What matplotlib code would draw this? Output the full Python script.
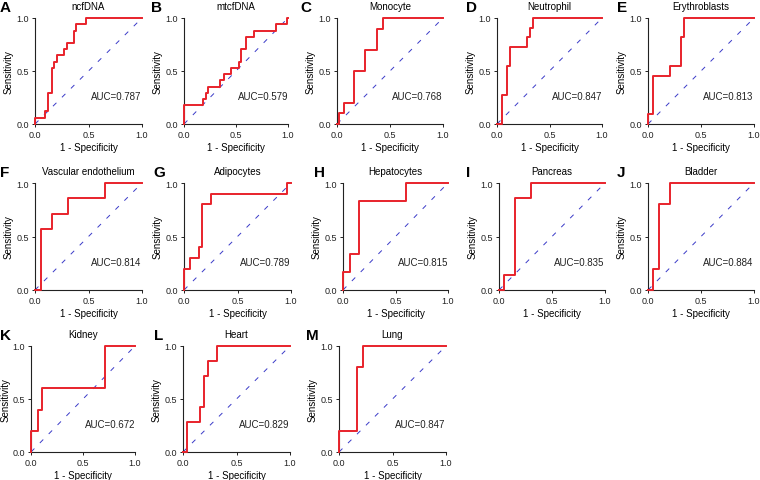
import matplotlib
matplotlib.use("Agg")
import matplotlib.pyplot as plt

plt.rcParams['font.family'] = ['Liberation Sans', 'DejaVu Sans']

# --- data: ROC step vertices (1 - specificity, sensitivity) ---
letters = ['A', 'B', 'C', 'D', 'E', 'F', 'G', 'H', 'I', 'J', 'K', 'L', 'M']
titles = ['ncfDNA', 'mtcfDNA', 'Monocyte', 'Neutrophil', 'Erythroblasts',
          'Vascular endothelium', 'Adipocytes', 'Hepatocytes', 'Pancreas', 'Bladder',
          'Kidney', 'Heart', 'Lung']
auc_values = [0.787, 0.579, 0.768, 0.847, 0.813,
              0.814, 0.789, 0.815, 0.835, 0.884,
              0.672, 0.829, 0.847]

fpr_values = [
    [0, 0, 0.094, 0.12, 0.16, 0.18, 0.21, 0.27, 0.30, 0.36, 0.38, 0.48, 1],
    [0, 0, 0.185, 0.21, 0.23, 0.345, 0.38, 0.455, 0.53, 0.55, 0.60, 0.67, 0.88, 0.99, 1],
    [0, 0.02, 0.07, 0.16, 0.26, 0.38, 0.43, 1],
    [0, 0.048, 0.095, 0.127, 0.29, 0.317, 0.34, 1],
    [0, 0, 0.047, 0.205, 0.31, 0.337, 1],
    [0, 0.053, 0.156, 0.306, 0.656, 1],
    [0, 0, 0.056, 0.144, 0.166, 0.253, 0.9625, 1],
    [0, 0, 0.069, 0.148, 0.6, 1],
    [0, 0.044, 0.155, 0.306, 1],
    [0, 0.047, 0.1, 0.205, 1],
    [0, 0, 0.069, 0.11, 0.716, 1],
    [0, 0.04, 0.156, 0.197, 0.234, 0.32, 1],
    [0, 0, 0.172, 0.228, 1],
]
tpr_values = [
    [0, 0.059, 0.118, 0.294, 0.529, 0.588, 0.647, 0.706, 0.765, 0.882, 0.941, 1, 1],
    [0, 0.176, 0.235, 0.294, 0.353, 0.412, 0.471, 0.529, 0.588, 0.706, 0.824, 0.882, 0.941, 1, 1],
    [0, 0.1, 0.2, 0.5, 0.7, 0.9, 1, 1],
    [0, 0.273, 0.545, 0.727, 0.818, 0.909, 1, 1],
    [0, 0.091, 0.455, 0.545, 0.818, 1, 1],
    [0, 0.571, 0.714, 0.857, 1, 1],
    [0, 0.2, 0.3, 0.4, 0.8, 0.9, 1, 1],
    [0, 0.167, 0.333, 0.833, 1, 1],
    [0, 0.143, 0.857, 1, 1],
    [0, 0.2, 0.8, 1, 1],
    [0, 0.2, 0.4, 0.6, 1, 1],
    [0, 0.286, 0.429, 0.714, 0.857, 1, 1],
    [0, 0.2, 0.8, 1, 1],
]

# --- layout (pixels in a 760x481 figure): left, right, top, bottom of each axes ---
W, H = 760, 481
boxes = [
    (35, 142, 19, 125), (184, 288, 19, 125), (337, 443, 19, 125), (497, 602, 19, 125), (648, 754, 19, 125),
    (35, 142, 184, 291), (184, 291, 184, 291), (343, 448, 184, 291), (499, 605, 184, 291), (648, 754, 184, 291),
    (31, 135, 347, 453), (183, 290, 347, 453), (339, 446, 347, 453),
]
letter_x = [0, 151, 300, 466, 617, 0, 153, 314, 466, 617, 0, 154, 306]

fig = plt.figure(figsize=(W / 100, H / 100), dpi=100)

for i in range(len(titles)):
    l, r, t, b = boxes[i]
    ax = fig.add_axes([l / W, (H - b) / H, (r - l) / W, (b - t) / H])

    # chance line + ROC curve
    ax.plot([0, 1], [0, 1], color='#3a3ac8', linewidth=0.7, dashes=(5, 8))
    ax.plot(fpr_values[i], tpr_values[i], color='#e8232b', linewidth=1.4,
            drawstyle='steps-post', clip_on=False, zorder=3)

    ax.set_xlim(0, 1)
    ax.set_ylim(0, 1)
    ax.set_xticks([0, 0.5, 1.0])
    ax.set_yticks([0, 0.5, 1.0])
    ax.set_xticklabels(['0.0', '0.5', '1.0'])
    ax.set_yticklabels(['0.0', '0.5', '1.0'])
    ax.tick_params(labelsize=6.5, length=2.5, width=0.7, pad=2, colors='#222222')
    for s in ['top', 'right']:
        ax.spines[s].set_visible(False)
    for s in ['left', 'bottom']:
        ax.spines[s].set_linewidth(0.8)
        ax.spines[s].set_color('#222222')

    ax.set_xlabel('1 - Specificity', fontsize=7, labelpad=2)
    ax.set_ylabel('Sensitivity', fontsize=7, labelpad=1 if l < 32 else 2)
    ax.text(0.52, 0.26, f'AUC={auc_values[i]:.3f}', fontsize=7, va='center', ha='left',
            color='#222222', transform=ax.transAxes)

    # title and panel letter
    fig.text((l + r) / 2 / W, (H - (t - 12)) / H, titles[i], fontsize=7, ha='center', va='center')
    fig.text(letter_x[i] / W, (H - (t - 11)) / H, letters[i], fontsize=11, fontweight='bold',
             ha='left', va='center')

fig.savefig('out.png', dpi=100)
